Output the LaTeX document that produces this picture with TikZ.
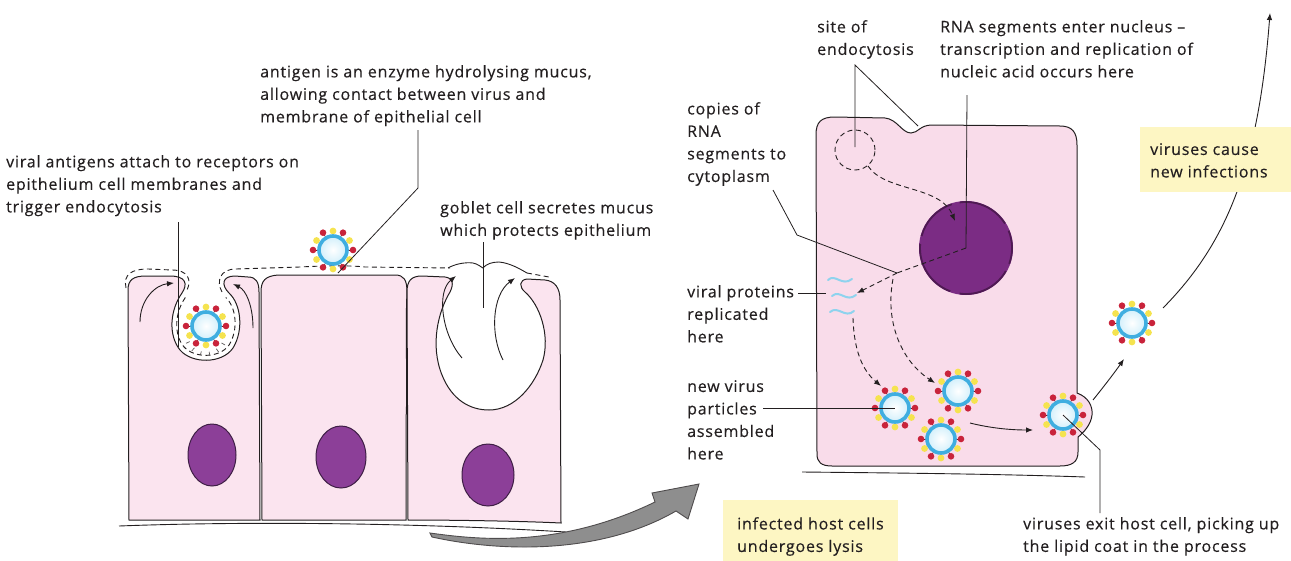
\documentclass[tikz,border=0pt]{standalone}
\usepackage{fontspec}
\setmainfont{Open Sans}[LetterSpace=5, FakeBold=0.35]
\usetikzlibrary{arrows.meta,calc}

\definecolor{ink}{HTML}{231F20}
\definecolor{cellpink}{HTML}{FBE4EF}
\definecolor{cellpinkR}{HTML}{F9DCEA}
\definecolor{nucA}{HTML}{8C3F98}
\definecolor{nucAline}{HTML}{3E1E45}
\definecolor{nucB}{HTML}{7B2C84}
\definecolor{nucBline}{HTML}{4E1A52}
\definecolor{capsid}{HTML}{3FAEE0}
\definecolor{capsidin}{HTML}{D4F0FB}
\definecolor{spikered}{HTML}{C9233B}
\definecolor{spikeyel}{HTML}{F5E34F}
\definecolor{notebox}{HTML}{FDF6C3}
\definecolor{arrowgrey}{HTML}{8E8E8E}
\definecolor{protein}{HTML}{8ED3EE}

\tikzset{
  lbl/.style={anchor=north west, inner sep=0pt, align=left,
    font=\fontsize{16}{22.5}\selectfont, text=ink},
  leader/.style={draw=ink, line width=0.8pt},
  cellfill/.style={fill=cellpink, draw=ink, line width=1pt},
  cellfillR/.style={fill=cellpinkR, draw=ink, line width=1pt},
  nucleusA/.style={fill=nucA, draw=nucAline, line width=1pt},
  mucus/.style={draw=ink, line width=0.9pt, dash pattern=on 5pt off 3.5pt},
  arr/.style={draw=ink, line width=0.9pt, -{Latex[length=7pt,width=5.5pt]}},
  dasharr/.style={arr, dash pattern=on 5pt off 3.5pt},
  virus/.pic={
    \foreach \a in {0,60,...,300}{
      \draw[spikered!55!black, line width=0.6pt] (\a:14pt) -- (\a:19pt);
      \fill[spikered] (\a:20pt) circle (3.3pt);
      \fill[spikeyel] (\a+30:19pt) circle (3.4pt);
    }
    \shade[inner color=white, outer color=capsidin] (0,0) circle (13pt);
    \draw[capsid, line width=3.6pt] (0,0) circle (14pt);
  }
}

\begin{document}
\begin{tikzpicture}[x=1pt, y=-1pt]
\useasboundingbox (0,0) rectangle (1291,560);

% ---------------- epithelium ----------------
% cell with the endocytic pit
\filldraw[cellfill] (129,520) -- (128,290) .. controls (128,280) and (133,276) .. (146,276)
  -- (170,276) .. controls (186,276) and (188,284) .. (182,293)
  .. controls (170,310) and (168,335) .. (180,350)
  .. controls (192,364) and (222,364) .. (233,348)
  .. controls (244,330) and (241,304) .. (229,293)
  .. controls (221,285) and (222,276) .. (235,276)
  -- (248,277) .. controls (256,277) and (259,282) .. (259,292) -- (260,520) -- cycle;
% receptor layer lining the pit
\draw[mucus, scale around={0.86:(206,325)}] (182,293)
  .. controls (170,310) and (168,335) .. (180,350)
  .. controls (192,364) and (222,364) .. (233,348)
  .. controls (244,330) and (241,304) .. (229,293);
\foreach \a in {205,230,255,280,305,330}{
  \draw[ink!75, line width=0.7pt] ($(206,334)+(\a:22pt)$) -- ($(206,334)+(\a:18pt)$);
}
\draw[arr] (140,322) .. controls (140,300) and (155,285) .. (174,283);
\draw[arr] (253,328) .. controls (253,306) and (246,290) .. (233,284);

% middle cell
\filldraw[cellfill] (262,520) -- (261,292) .. controls (261,281) and (265,276) .. (278,275)
  -- (395,275) .. controls (404,275) and (407,280) .. (407,292)
  .. controls (405,340) and (408,380) .. (406,420) -- (406,520) -- cycle;

% goblet cell
\filldraw[cellfill] (408,520) -- (407,292) .. controls (407,281) and (411,276) .. (422,276)
  -- (445,277) .. controls (453,278) and (454,284) .. (450,292)
  .. controls (438,312) and (430,345) .. (442,375)
  .. controls (452,400) and (470,410) .. (489,410)
  .. controls (515,410) and (535,385) .. (543,360)
  .. controls (550,335) and (540,305) .. (525,292)
  .. controls (519,287) and (519,280) .. (527,279)
  -- (545,280) .. controls (555,281) and (560,288) .. (560,300)
  -- (561,523) .. controls (520,521) and (450,520) .. (408,520) -- cycle;
% secreted mucus cap
\draw[ink, line width=0.9pt] (448,268) .. controls (455,264) and (465,262) .. (473,263)
  .. controls (478,264) and (481,267) .. (483,268)
  .. controls (486,264) and (492,262) .. (499,262)
  .. controls (510,263) and (520,269) .. (527,273);
\draw[arr] (462,358) .. controls (442,335) and (436,292) .. (456,276);
\draw[arr] (503,360) .. controls (490,335) and (492,295) .. (515,278);

% mucus layer
\draw[mucus] (126,288) .. controls (123,274) and (132,269) .. (148,269) -- (172,270)
  .. controls (188,270) and (192,280) .. (187,290);
\draw[mucus] (222,292) .. controls (216,281) and (220,269) .. (236,269) -- (300,267)
  .. controls (318,266) and (348,265) .. (365,267) -- (450,268);
\draw[mucus] (527,273) -- (549,277);

% nuclei
\filldraw[nucleusA] (212,455) ellipse (24pt and 31pt);
\filldraw[nucleusA] (341,457) ellipse (25pt and 31pt);
\filldraw[nucleusA] (488,475) ellipse (26pt and 31pt);

% basement membrane
\draw[ink, line width=0.9pt] (119,526) .. controls (250,521) and (420,523) .. (566,532);

% viruses at the epithelium
\coordinate (vPit) at (206,326);
\coordinate (vTop) at (333,250);
\pic at (vPit) {virus};
\pic at (vTop) {virus};

% ---------------- transfer arrow ----------------
\filldraw[fill=arrowgrey, draw=ink!80, line width=0.9pt]
  (430,533) .. controls (480,540) and (560,548) .. (655,502) -- (652,493) -- (699,484)
  -- (688,519) -- (676,511) .. controls (600,555) and (500,552) .. (432,537) -- cycle;

% ---------------- infected host cell ----------------
\filldraw[cellfillR] (817,454) -- (816,135) .. controls (816,122) and (821,117) .. (835,117)
  -- (885,118) .. controls (897,119) and (902,133) .. (911,133)
  .. controls (918,133) and (920,125) .. (932,125)
  -- (1060,126) .. controls (1072,126) and (1077,132) .. (1077,145)
  -- (1077,393) .. controls (1088,397) and (1093,406) .. (1092,415)
  .. controls (1091,425) and (1083,433) .. (1078,437)
  -- (1078,452) .. controls (1078,462) and (1072,466) .. (1060,466)
  -- (832,466) .. controls (821,466) and (817,462) .. (817,454) -- cycle;
\draw[ink, line width=0.9pt] (802,472) .. controls (900,473) and (1000,474) .. (1085,477);

% endocytic vesicle
\coordinate (vesicle) at (855,150);
\draw[mucus] (vesicle) circle (20pt);

% nucleus with pores
\coordinate (nuc) at (966,248);
\fill[nucB] (nuc) circle (47pt);
\foreach \s/\e in {108/165,175/250,262/330,-20/22,32/98}{
  \draw[nucBline, line width=1.8pt] (nuc) ++(\s:46pt) arc[start angle=\s, end angle=\e, radius=46pt];
}

% viral proteins
\draw[protein, line width=2pt, line cap=round] (828,280) .. controls (835,273) and (842,287) .. (852,279);
\draw[protein, line width=2pt, line cap=round] (832,296) .. controls (840,289) and (846,303) .. (856,295);
\draw[protein, line width=2pt, line cap=round] (830,312) .. controls (838,305) and (845,319) .. (854,311);

% RNA routes
\coordinate (branch) at (897,273);
\draw[dasharr] (868,166) .. controls (885,192) and (940,185) .. (955,221);
\draw[mucus] (nuc) -- (branch);
\draw[dasharr] (branch) -- (857,293);
\draw[dasharr] (853,318) .. controls (854,350) and (862,370) .. (881,386);
\draw[dasharr] (893,279) .. controls (885,320) and (900,360) .. (935,383);

% new virus particles
\coordinate (v1) at (895,408);
\coordinate (v2) at (958,391);
\coordinate (v3) at (941,439);
\coordinate (v4) at (1063,415);
\coordinate (v5) at (1132,323);
\foreach \v in {v1,v2,v3,v4,v5}{ \pic at (\v) {virus}; }

\draw[arr] (970,423) .. controls (990,428) and (1010,430) .. (1033,430);
\draw[arr] (1093,400) .. controls (1105,385) and (1115,372) .. (1124,359);
\draw[arr] (1163,308) .. controls (1225,245) and (1258,170) .. (1270,13);

% ---------------- labels ----------------
\node[lbl] (lAttach) at (6,155) {viral antigens attach to receptors on\\epithelium cell membranes and\\trigger endocytosis};
\node[lbl] (lAntigen) at (260,65) {antigen is an enzyme hydrolysing mucus,\\allowing contact between virus and\\membrane of epithelial cell};
\node[lbl] (lGoblet) at (440,201) {goblet cell secretes mucus\\which protects epithelium};
\node[lbl] (lSite) at (817,20) {site of\\endocytosis};
\node[lbl] (lRNA) at (940,20) {RNA segments enter nucleus –\\transcription and replication of\\nucleic acid occurs here};
\node[lbl] (lCopies) at (687,102) {copies of\\RNA\\segments to\\cytoplasm};
\node[lbl] (lProteins) at (687,285) {viral proteins\\replicated\\here};
\node[lbl] (lNew) at (687,380) {new virus\\particles\\assembled\\here};
\node[lbl] (lExit) at (1023,517) {viruses exit host cell, picking up\\the lipid coat in the process};

\fill[notebox] (723,500) rectangle (898,562);
\node[lbl] (lLysis) at (737,517) {infected host cells\\undergoes lysis};
\fill[notebox] (1140,127) rectangle (1291,192);
\node[lbl] (lInfect) at (1150,143) {viruses cause\\new infections};

% ---------------- leader lines ----------------
\draw[leader] (178,222) -- (178,347);
\draw[leader] (418,130) -- (418,188) -- (338,273);
\draw[leader] (483,242) -- (483,308);
\draw[leader] (855,147) -- (855,65) -- (918,126);
\draw[leader] (967,95) -- (nuc);
\draw[leader] (773,190) -- (797,235) -- (branch);
\draw[leader] (798,293) -- (826,293);
\draw[leader] (763,408) -- (v1);
\draw[leader] (1100,513) -- (1100,450) -- (v4);
\end{tikzpicture}
\end{document}
